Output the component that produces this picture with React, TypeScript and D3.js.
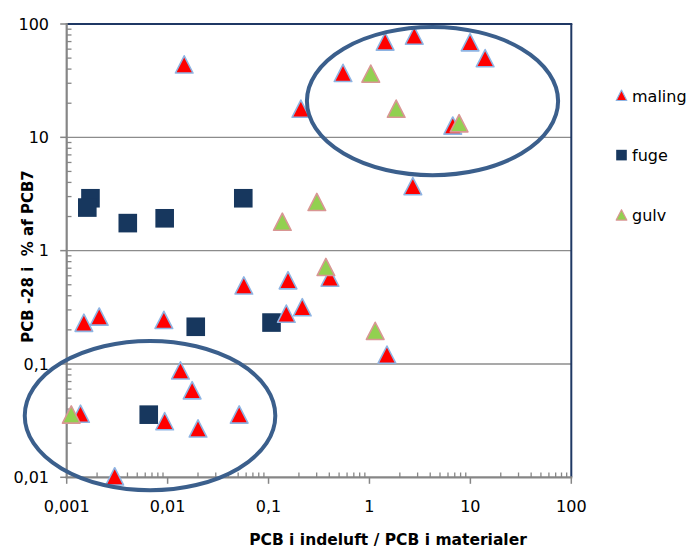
import React from 'react';
import * as d3 from 'd3';

// Data: [x = PCB i indeluft / PCB i materialer, y = PCB-28 i % af PCB7]
const malingPoints: [number, number][] = [
  [0.0146, 44], [1.43, 70], [2.78, 79], [9.93, 69], [14, 50], [0.547, 37],
  [0.209, 17.9], [6.69, 12.7], [2.69, 3.71], [0.406, 0.578], [0.0569, 0.493],
  [0.156, 0.548], [0.216, 0.317], [0.15, 0.278], [1.49, 0.121], [0.00148, 0.231],
  [0.0021, 0.262], [0.00918, 0.245], [0.0134, 0.0877], [0.0175, 0.0586],
  [0.00935, 0.0313], [0.02, 0.027], [0.0512, 0.0358], [0.00137, 0.0364], [0.00299, 0.0102],
];
const fugePoints: [number, number][] = [
  [0.00172, 2.9], [0.0016, 2.4], [0.00403, 1.75], [0.00935, 1.93], [0.0562, 2.9],
  [0.107, 0.232], [0.019, 0.213], [0.0065, 0.0357],
];
const gulvPoints: [number, number][] = [
  [1.03, 36.5], [1.84, 17.9], [7.73, 13.3], [0.137, 1.8], [0.301, 2.69],
  [0.37, 0.718], [1.14, 0.196], [0.00111, 0.0358],
];
const xTicks = [0.001, 0.01, 0.1, 1, 10, 100];
const xTickLabels = ['0,001', '0,01', '0,1', '1', '10', '100'];
const yTicks = [0.01, 0.1, 1, 10, 100];
const yTickLabels = ['0,01', '0,1', '1', '10', '100'];
const legendLabels = ['maling', 'fuge', 'gulv'];
// Highlight ellipses as data-space bounding boxes [x0, x1, y0, y1]
const ellipseBoxes: [number, number, number, number][] = [
  [0.24, 74, 4.63, 94.2],
  [0.000384, 0.1167, 0.00768, 0.1596],
];

const W = 692, H = 550;
const L = 66.7, R = 571.3, T = 24, B = 477.3;
const FONT = '"DejaVu Sans", sans-serif';

export default function App() {
  const x = d3.scaleLog().domain([0.001, 100]).range([L, R]);
  const y = d3.scaleLog().domain([0.01, 100]).range([B, T]);

  const minorX: number[] = [];
  for (let k = -3; k < 2; k++) for (let m = 2; m <= 9; m++) minorX.push(m * Math.pow(10, k));
  const minorY: number[] = [];
  for (let k = -2; k < 2; k++) for (let m = 2; m <= 9; m++) minorY.push(m * Math.pow(10, k));

  const tri = (hw: number, hh: number) => `M0,${-hh}L${hw},${hh}L${-hw},${hh}Z`;
  const bigTri = tri(8.8, 8.6);
  const smallTri = tri(5.3, 5.2);

  const redFill = '#ff0000', redStroke = '#8eb4e3';
  const greenFill = '#92d050', greenStroke = '#d99694';
  const navy = '#17375e';
  const grey = '#868686';

  return (
    <svg width={W} height={H} style={{ position: 'absolute', left: 0, top: 0, background: '#fff' }}>
      <rect x={0} y={0} width={W} height={H} fill="#fff" />
      {/* gridlines */}
      {[0.1, 1, 10].map((v) => (
        <line key={'g' + v} x1={L} x2={R} y1={y(v)} y2={y(v)} stroke="#8c8c8c" strokeWidth={1.3} />
      ))}
      {/* border top / right */}
      <line x1={L} x2={R + 1} y1={y(100)} y2={y(100)} stroke="#1f3864" strokeWidth={2} />
      <line x1={R} x2={R} y1={T} y2={B} stroke="#1f3864" strokeWidth={2} />
      {/* y axis */}
      <line x1={L} x2={L} y1={T - 1} y2={B + 1} stroke={grey} strokeWidth={2.2} />
      {yTicks.map((v) => (
        <line key={'yt' + v} x1={L - 6.5} x2={L} y1={y(v)} y2={y(v)} stroke={grey} strokeWidth={1.5} />
      ))}
      {minorY.map((v) => (
        <line key={'ym' + v} x1={L} x2={L + 4.8} y1={y(v)} y2={y(v)} stroke={grey} strokeWidth={1.3} />
      ))}
      {yTicks.map((v, i) => (
        <text key={'yl' + v} x={49} y={y(v) + 5.8} textAnchor="end" fontFamily={FONT} fontSize={16} fill="#000">
          {yTickLabels[i]}
        </text>
      ))}
      {/* x axis */}
      <line x1={L - 1} x2={R + 1} y1={B} y2={B} stroke={grey} strokeWidth={2.2} />
      {xTicks.map((v) => (
        <line key={'xt' + v} x1={x(v)} x2={x(v)} y1={B} y2={B + 6.5} stroke={grey} strokeWidth={1.5} />
      ))}
      {minorX.map((v) => (
        <line key={'xm' + v} x1={x(v)} x2={x(v)} y1={B - 4.8} y2={B} stroke={grey} strokeWidth={1.3} />
      ))}
      {xTicks.map((v, i) => (
        <text key={'xl' + v} x={x(v)} y={512} textAnchor="middle" fontFamily={FONT} fontSize={16} fill="#000">
          {xTickLabels[i]}
        </text>
      ))}
      {/* axis titles */}
      <text x={388} y={545} textAnchor="middle" fontFamily={FONT} fontWeight="bold" fontSize={15.5} fill="#000">
        PCB i indeluft / PCB i materialer
      </text>
      <text
        transform={`translate(32.5,256.5) rotate(-90)`}
        textAnchor="middle"
        fontFamily={FONT}
        fontWeight="bold"
        fontSize={15}
        fill="#000"
        style={{ whiteSpace: 'pre' }}
      >
        {'PCB -28 i  % af PCB7'}
      </text>
      {/* series: fuge */}
      {fugePoints.map(([a, b], i) => (
        <rect key={'f' + i} x={x(a) - 9.3} y={y(b) - 9.3} width={18.6} height={18.6} fill={navy} />
      ))}
      {/* series: maling */}
      {malingPoints.map(([a, b], i) => (
        <path key={'m' + i} d={bigTri} transform={`translate(${x(a)},${y(b)})`} fill={redFill}
          stroke={redStroke} strokeWidth={1.6} strokeLinejoin="round" />
      ))}
      {/* series: gulv */}
      {gulvPoints.map(([a, b], i) => (
        <path key={'g' + i} d={bigTri} transform={`translate(${x(a)},${y(b)})`} fill={greenFill}
          stroke={greenStroke} strokeWidth={1.6} strokeLinejoin="round" />
      ))}
      {/* ellipses */}
      {ellipseBoxes.map(([x0, x1, y0, y1], i) => (
        <ellipse key={'e' + i} cx={(x(x0) + x(x1)) / 2} cy={(y(y0) + y(y1)) / 2}
          rx={(x(x1) - x(x0)) / 2} ry={(y(y0) - y(y1)) / 2}
          fill="none" stroke="#3b5f8c" strokeWidth={4} />
      ))}
      {/* legend */}
      {legendLabels.map((lab, i) => {
        const cy = 95.3 + i * 59.8;
        return (
          <g key={'lg' + i}>
            {i === 1 ? (
              <rect x={616.2} y={cy - 5.3} width={10.6} height={10.6} fill={navy} />
            ) : (
              <path d={smallTri} transform={`translate(621.5,${cy})`}
                fill={i === 0 ? redFill : greenFill} stroke={i === 0 ? redStroke : greenStroke}
                strokeWidth={1.2} strokeLinejoin="round" />
            )}
            <text x={632} y={cy + 6.2} fontFamily={FONT} fontSize={16} fill="#000">{lab}</text>
          </g>
        );
      })}
    </svg>
  );
}
